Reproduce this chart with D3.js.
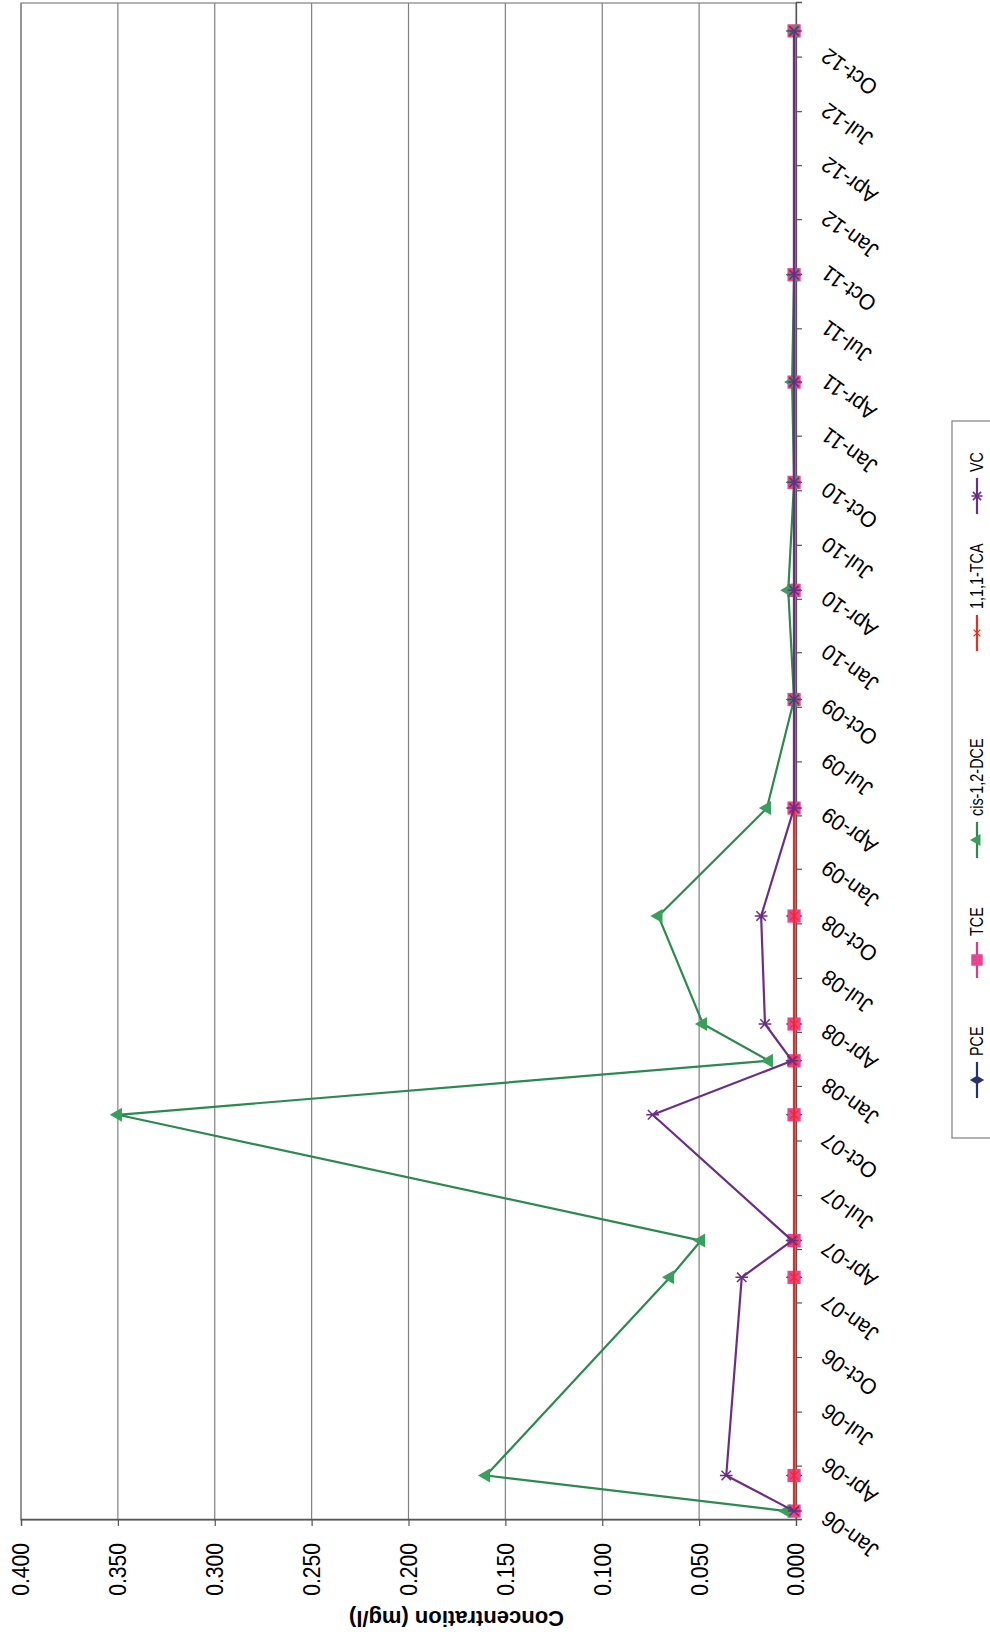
<!DOCTYPE html>
<html>
<head>
<meta charset="utf-8">
<script src="https://cdn.jsdelivr.net/npm/d3@7"></script>
<style>
  body { margin: 0; background: #fff; }
  svg { display: block; }
  text { font-family: "Liberation Sans", Arial, sans-serif; fill: #000; }
</style>
</head>
<body>
<svg id="chart" width="990" height="1638"></svg>
<script>
// Sampling dates for the monitoring well
const sampleDates = [
  "2006-01-16", "2006-03-17", "2007-02-14", "2007-04-17", "2007-11-15",
  "2008-02-14", "2008-04-16", "2008-10-15", "2009-04-15", "2009-10-15",
  "2010-04-17", "2010-10-16", "2011-04-03", "2011-10-01", "2012-11-15"
];

// Concentrations in mg/l (non-detects plotted at 0.001)
const pceValues = [0.001, 0.001, 0.001, 0.001, 0.001, 0.001, 0.001, 0.001, 0.001, 0.001, 0.001, 0.001, 0.001, 0.001, 0.001];
const tceValues = [0.001, 0.001, 0.001, 0.001, 0.001, 0.001, 0.001, 0.001, 0.001, 0.001, 0.001, 0.001, 0.001, 0.001, 0.001];
const dceValues = [0.005, 0.160, 0.065, 0.049, 0.350, 0.014, 0.048, 0.071, 0.015, 0.001, 0.004, 0.001, 0.002, 0.001, 0.001];
const tcaValues = [0.001, 0.001, 0.001, 0.001, 0.001, 0.001, 0.001, 0.001, 0.001, 0.001, 0.001, 0.001, 0.001, 0.001, 0.001];
const vcValues  = [0.001, 0.036, 0.028, 0.002, 0.074, 0.002, 0.016, 0.018, 0.001, 0.001, 0.001, 0.001, 0.001, 0.001, 0.001];

const seriesNames = ["PCE", "TCE", "cis-1,2-DCE", "1,1,1-TCA", "VC"];
const valueTicks = [0, 0.05, 0.10, 0.15, 0.20, 0.25, 0.30, 0.35, 0.40];
const axisTitle = "Concentration (mg/l)";

// ---- marker shapes ----
const asterisk = {
  draw(ctx, size) {
    const r = Math.sqrt(size) / 2;
    const d = r * 0.75;
    ctx.moveTo(-d, -d); ctx.lineTo(d, d);
    ctx.moveTo(-d, d); ctx.lineTo(d, -d);
    ctx.moveTo(0, -r); ctx.lineTo(0, r);
  }
};
const times = {
  draw(ctx, size) {
    const r = Math.sqrt(size) / 2 * 0.75;
    ctx.moveTo(-r, -r); ctx.lineTo(r, r);
    ctx.moveTo(-r, r); ctx.lineTo(r, -r);
  }
};

const styles = [
  { color: "#27336e", fill: "#27336e", symbol: d3.symbolDiamond, size: 80, stroke: false, sw: 0 },
  { color: "#e2358b", fill: "#e8448f", symbol: d3.symbolSquare, size: 175, stroke: false, sw: 0 },
  { color: "#2a8a4f", fill: "#38a05b", symbol: d3.symbolTriangle, size: 85, stroke: false, sw: 0 },
  { color: "#f22a1e", fill: "none", symbol: times, size: 110, stroke: true, sw: 1.2 },
  { color: "#6b2d88", fill: "none", symbol: asterisk, size: 160, stroke: true, sw: 1.5 }
];

const parseDate = d3.timeParse("%Y-%m-%d");
const dates = sampleDates.map(parseDate);
const allValues = [pceValues, tceValues, dceValues, tcaValues, vcValues];
const series = seriesNames.map((name, i) => ({
  name,
  style: styles[i],
  points: dates.map((d, j) => ({ date: d, value: allValues[i][j] }))
}));

// The page is laid out in landscape and turned a quarter turn onto the portrait sheet.
const svg = d3.select("#chart");
const page = svg.append("g").attr("transform", "translate(0,1638) rotate(-90)");

const plot = { left: 118, right: 1635, top: 21, bottom: 796 };

const x = d3.scaleTime()
  .domain([new Date(2006, 0, 1), new Date(2013, 0, 1)])
  .range([plot.left, plot.right]);
const y = d3.scaleLinear()
  .domain([0, 0.4])
  .range([plot.bottom, plot.top]);

// gridlines
page.append("g")
  .selectAll("line")
  .data(valueTicks.filter(v => v > 0))
  .join("line")
  .attr("x1", plot.left).attr("x2", plot.right)
  .attr("y1", d => y(d)).attr("y2", d => y(d))
  .attr("stroke", "#808080").attr("stroke-width", 1.2);

// plot frame
page.append("rect")
  .attr("x", plot.left).attr("y", plot.top)
  .attr("width", plot.right - plot.left).attr("height", plot.bottom - plot.top)
  .attr("fill", "none").attr("stroke", "#808080").attr("stroke-width", 1.2);

// value axis
const yAxis = d3.axisLeft(y).tickValues(valueTicks).tickSize(6).tickFormat("");
const yAxisG = page.append("g").attr("transform", `translate(${plot.left},0)`).call(yAxis);
yAxisG.select(".domain").attr("stroke", "#555").attr("stroke-width", 1.3);
yAxisG.selectAll(".tick line").attr("stroke", "#555").attr("stroke-width", 1.2);

page.append("g")
  .selectAll("text")
  .data(valueTicks)
  .join("text")
  .attr("transform", d => `translate(95,${y(d)}) scale(0.88,1)`)
  .attr("text-anchor", "end")
  .attr("dy", "0.35em")
  .style("font-size", "24px")
  .text(d3.format(".3f"));

// date axis
const quarterTicks = d3.timeMonth.every(3).range(new Date(2006, 0, 1), new Date(2012, 10, 1));
const xAxis = d3.axisBottom(x).tickValues(quarterTicks).tickSize(6).tickFormat("");
const xAxisG = page.append("g").attr("transform", `translate(0,${plot.bottom})`).call(xAxis);
xAxisG.select(".domain").attr("stroke", "#555").attr("stroke-width", 1.3);
xAxisG.selectAll(".tick line").attr("stroke", "#555").attr("stroke-width", 1.2);

const fmtDate = d3.timeFormat("%b-%y");
page.append("g")
  .selectAll("text")
  .data(quarterTicks)
  .join("text")
  .attr("transform", d => `translate(${x(d) + 4},${plot.bottom + 28}) rotate(-54) scale(0.95,1)`)
  .attr("text-anchor", "end")
  .attr("dy", "0.35em")
  .style("font-size", "22px")
  .text(fmtDate);

// axis title
page.append("text")
  .attr("transform", `translate(19,${(plot.top + plot.bottom) / 2 + 48}) rotate(-90)`)
  .attr("text-anchor", "middle")
  .attr("dy", "0.35em")
  .style("font-size", "22px")
  .style("font-weight", "bold")
  .text(axisTitle);

// series: line first, then its markers, in legend order
const line = d3.line().x(d => x(d.date)).y(d => y(d.value));
const seriesG = page.append("g");
series.forEach(s => {
  const g = seriesG.append("g");
  g.append("path")
    .datum(s.points)
    .attr("d", line)
    .attr("fill", "none")
    .attr("stroke", s.style.color)
    .attr("stroke-width", 2.2)
    .attr("stroke-linejoin", "round");
  const sym = d3.symbol().type(s.style.symbol).size(s.style.size);
  g.selectAll("path.m")
    .data(s.points)
    .join("path")
    .attr("class", "m")
    .attr("transform", d => `translate(${x(d.date)},${y(d.value)})`)
    .attr("d", sym)
    .attr("fill", s.style.stroke ? "none" : s.style.fill)
    .attr("stroke", s.style.stroke ? s.style.color : "none")
    .attr("stroke-width", s.style.sw);
});

// legend
const legend = page.append("g");
legend.append("rect")
  .attr("x", 500).attr("y", 952)
  .attr("width", 717).attr("height", 70)
  .attr("fill", "#fff").attr("stroke", "#808080").attr("stroke-width", 1.2);

const legendX = [558, 678, 798, 1005, 1142];
const legendY = 977;
series.forEach((s, i) => {
  const cx = legendX[i];
  const g = legend.append("g");
  g.append("line")
    .attr("x1", cx - 18).attr("x2", cx + 18)
    .attr("y1", legendY).attr("y2", legendY)
    .attr("stroke", s.style.color).attr("stroke-width", 2.2);
  g.append("path")
    .attr("transform", `translate(${cx},${legendY})`)
    .attr("d", d3.symbol().type(s.style.symbol).size(s.style.size * 0.75)())
    .attr("fill", s.style.stroke ? "none" : s.style.fill)
    .attr("stroke", s.style.stroke ? s.style.color : "none")
    .attr("stroke-width", s.style.sw);
  g.append("text")
    .attr("transform", `translate(${cx + 24},${legendY}) scale(0.8,1)`)
    .attr("dy", "0.35em")
    .style("font-size", "18px")
    .text(s.name);
});
</script>
</body>
</html>
